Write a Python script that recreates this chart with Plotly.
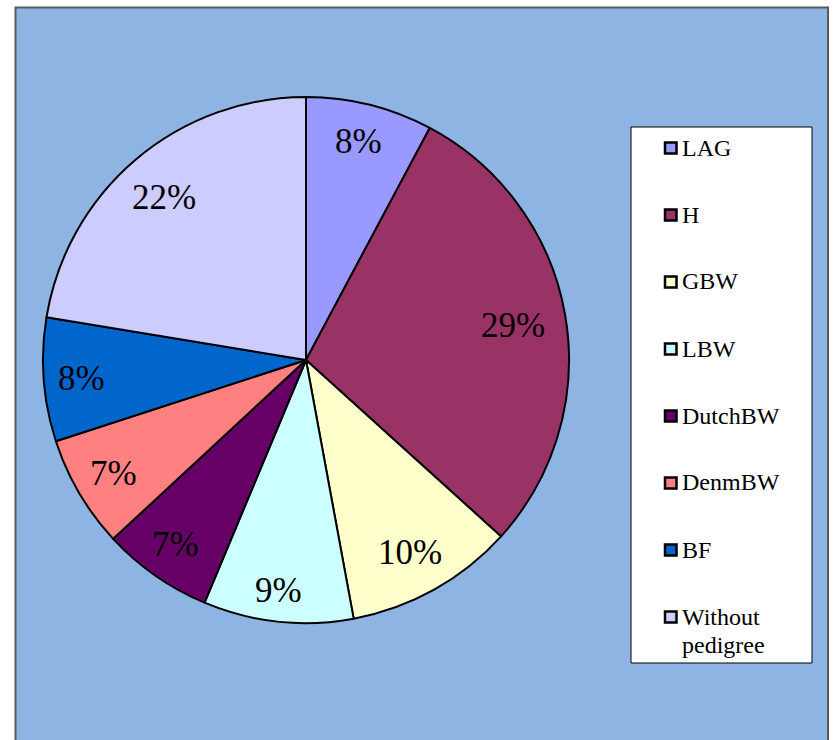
import math
import plotly.graph_objects as go

categories = ["LAG", "H", "GBW", "LBW", "DutchBW", "DenmBW", "BF", "Without pedigree"]
legend_labels = ["LAG", "H", "GBW", "LBW", "DutchBW", "DenmBW", "BF", "Without<br>pedigree"]
values = [7.8, 28.9, 10.4, 9.2, 6.8, 6.9, 7.6, 22.4]
colors = ["#9999FF", "#993366", "#FFFFCC", "#CCFFFF", "#660066", "#FF8080", "#0066CC", "#CCCCFF"]

W, H = 833, 740
def px(x):
    return x / W
def py(y):
    return 1 - y / H

CX, CY, R = 306, 360, 263
SERIF = "Liberation Serif"
LABEL_FS = 35
LEG_FS = 24

fig = go.Figure()
fig.add_trace(go.Pie(
    labels=categories, values=values, sort=False, direction="clockwise", rotation=0,
    marker=dict(colors=colors, line=dict(color="black", width=2)),
    textinfo="none", hoverinfo="label+percent", showlegend=False,
    domain=dict(x=[px(CX - R), px(CX + R)], y=[py(CY + R), py(CY - R)]),
))

shapes = [
    dict(type="rect", xref="paper", yref="paper", x0=px(15.5), x1=px(828), y0=py(7.5), y1=py(760),
         fillcolor="#8EB4E3", line=dict(color="#595959", width=2), layer="below"),
    dict(type="rect", xref="paper", yref="paper", x0=px(631), x1=px(812), y0=py(127), y1=py(663),
         fillcolor="white", line=dict(color="black", width=1), layer="above"),
]
annotations = []

# percentage labels: box placed inside the slice so its outer corner sits a fixed distance inside the rim
total = sum(values)
cum = 0.0
D = R - 17
for v in values:
    mid = (cum + v / 2) / total * 2 * math.pi
    cum += v
    txt = f"{round(v / total * 100)}%"
    w = (len(txt) - 1) * 0.5 * LABEL_FS + 0.8 * LABEL_FS
    h = 0.72 * LABEL_FS
    ux, uy = math.sin(mid), -math.cos(mid)
    a = math.copysign(w / 2, ux)
    b = math.copysign(h / 2, uy)
    p = ux * a + uy * b
    r = -p + math.sqrt(p * p - (a * a + b * b) + D * D)
    x = CX + r * ux - 3
    y = CY + r * uy
    annotations.append(dict(x=px(x), y=py(y + 2), xref="paper", yref="paper", showarrow=False,
                            text=txt, font=dict(family=SERIF, size=LABEL_FS, color="black"),
                            xanchor="center", yanchor="middle"))

for i, (lab, col) in enumerate(zip(legend_labels, colors)):
    yc = 148 + i * 67
    shapes.append(dict(type="rect", xref="paper", yref="paper", x0=px(665), x1=px(676.5),
                       y0=py(yc - 5.5), y1=py(yc + 5.5), fillcolor=col,
                       line=dict(color="black", width=2.5), layer="above"))
    for k, line in enumerate(lab.split("<br>")):
        annotations.append(dict(x=px(681), y=py(yc - 0.5 + k * 28), xref="paper", yref="paper", showarrow=False,
                                text=line, align="left", xanchor="left", yanchor="middle",
                                font=dict(family=SERIF, size=LEG_FS, color="black"), borderpad=0))

fig.update_layout(
    width=W, height=H, margin=dict(l=0, r=0, t=0, b=0),
    paper_bgcolor="white", plot_bgcolor="white",
    shapes=shapes, annotations=annotations,
)
fig.write_html("out.html")
